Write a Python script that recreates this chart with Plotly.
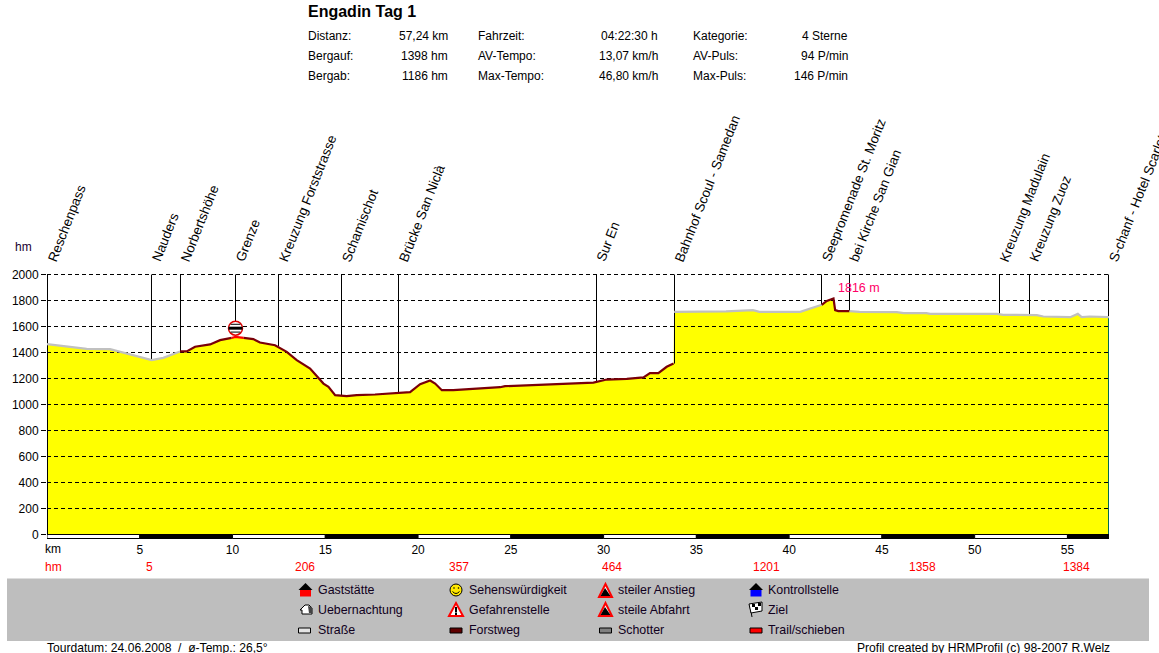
import numpy as np
import plotly.graph_objects as go

# ---------- data ----------
km = [0, 1.06, 2.14, 3.4, 4.65, 5.64, 6.27, 7.17, 7.53, 7.98, 8.79, 9.33, 9.95, 10.15, 10.6, 11.12, 11.48, 12.29,
      12.92, 13.46, 14.18, 14.9, 15.17, 15.53, 16.15, 16.69, 17.68, 18.49, 19.03, 19.57, 20.11, 20.65, 20.92,
      21.28, 21.9, 23.16, 24.42, 24.69, 26.2, 28.01, 29.45, 30.17, 31.25, 32.15, 32.5, 32.95, 33.4, 33.77,
      33.8, 35.55, 36.6, 38.05, 38.4, 40.6, 41.13, 41.76, 42.03, 42.39, 42.48, 42.65, 43.25, 43.8, 45.8, 46.17,
      47.4, 47.6, 51.2, 51.54, 53.35, 53.7, 55.15, 55.56, 55.77, 56.2, 57.24]
elev = [1464, 1444, 1428, 1426, 1380, 1341, 1359, 1408, 1408, 1444, 1462, 1495, 1512, 1520, 1512, 1503, 1477, 1456,
        1405, 1341, 1277, 1161, 1136, 1072, 1064, 1072, 1077, 1085, 1090, 1095, 1156, 1185, 1161,
        1110, 1110, 1120, 1133, 1141, 1149, 1164, 1169, 1192, 1197, 1208, 1241, 1241, 1290, 1315,
        1713, 1713, 1716, 1726, 1713, 1713, 1738, 1767, 1797, 1816, 1726, 1718, 1718, 1713, 1710, 1703,
        1703, 1697, 1697, 1690, 1687, 1677, 1672, 1697, 1672, 1677, 1672]

surface_from = [0, 7.17, 9.95, 10.6, 33.8, 41.76, 43.25]
surface_to = [7.17, 9.95, 10.6, 33.77, 41.76, 43.25, 57.24]
surface_kind = ["road", "forest", "trail", "forest", "road", "forest", "road"]
surface_colors = {"road": "#C0C0C0", "forest": "#7A0008", "trail": "#FF0000"}

way_names = ["Reschenpass", "Nauders", "Norbertshöhe", "Grenze", "Kreuzung Forststrasse",
             "Schamischot", "Brücke San Niclà", "Sur En", "Bahnhof Scoul - Samedan", "Seepromenade St. Moritz",
             "bei Kirche San Gian", "Kreuzung Madulain", "Kreuzung Zuoz", "S-chanf - Hotel Scarlet"]
way_km = [0.027, 5.632, 7.195, 10.16, 12.477, 15.873, 18.945, 29.617, 33.821, 41.744, 43.253, 51.338, 52.955, 57.213]
way_elev = [0, 1341, 1408, 1590, 1450, 1065, 1090, 1169, 1315, 1767, 1718, 1697, 1690, 1672]

y_ticks = [0, 200, 400, 600, 800, 1000, 1200, 1400, 1600, 1800, 2000]
km_ticks = [5, 10, 15, 20, 25, 30, 35, 40, 45, 50, 55]
band_edges = [0, 5, 10, 15, 20, 25, 30, 35, 40, 45, 50, 55, 57.24]
climb_km = [5.55, 13.9, 22.2, 30.46, 38.8, 47.2, 55.5]
climb_hm = [5, 206, 357, 464, 1201, 1358, 1384]
peak_km, peak_elev, peak_label = 42.39, 1816, "1816 m"
sign_km, sign_elev = 10.16, 1587

title = "Engadin Tag 1"
stats = [
    ["Distanz:", "57,24 km", "Fahrzeit:", "04:22:30 h", "Kategorie:", "4 Sterne"],
    ["Bergauf:", "1398 hm", "AV-Tempo:", "13,07 km/h", "AV-Puls:", "94 P/min"],
    ["Bergab:", "1186 hm", "Max-Tempo:", "46,80 km/h", "Max-Puls:", "146 P/min"],
]
legend_rows = [["Gaststätte", "Sehenswürdigkeit", "steiler Anstieg", "Kontrollstelle"],
               ["Uebernachtung", "Gefahrenstelle", "steile Abfahrt", "Ziel"],
               ["Straße", "Forstweg", "Schotter", "Trail/schieben"]]
footer_left = "Tourdatum: 24.06.2008  /  ø-Temp.: 26,5°"
footer_right = "Profil created by HRMProfil (c) 98-2007 R.Welz"

# ---------- layout helpers ----------
W, H = 1159, 653
L, R, T, B = 47, 1109, 274, 539
FONT = "Liberation Sans, Arial, sans-serif"


def px(x):
    return (x - L) / (R - L)


def py(y):
    return (B - y) / (B - T)


def txt(x, y, s, anchor="left", size=12, color="#000000", bold=False):
    return dict(xref="paper", yref="paper", x=px(x), y=py(y), text=f"<b>{s}</b>" if bold else s, showarrow=False,
                xanchor=anchor, yanchor="middle", align=anchor, borderpad=0, borderwidth=0,
                font=dict(family=FONT, size=size, color=color))


def poly(points, fill, line="rgba(0,0,0,0)", width=1, layer="above"):
    d = "M" + " L".join(f"{px(a):.5f},{py(b):.5f}" for a, b in points) + " Z"
    return dict(type="path", xref="paper", yref="paper", path=d, fillcolor=fill, line=dict(color=line, width=width),
                layer=layer)


def rect(x0, y0, x1, y1, fill, line="rgba(0,0,0,0)", width=1, layer="above"):
    return dict(type="rect", xref="paper", yref="paper", x0=px(x0), x1=px(x1), y0=py(y0), y1=py(y1), fillcolor=fill,
                line=dict(color=line, width=width), layer=layer)


def circle(cx, cy, r, fill, line="rgba(0,0,0,0)", width=1):
    return dict(type="circle", xref="paper", yref="paper", x0=px(cx - r), x1=px(cx + r), y0=py(cy - r), y1=py(cy + r),
                fillcolor=fill, line=dict(color=line, width=width), layer="above")


fig = go.Figure()

# profile fill
fig.add_trace(go.Scatter(x=km, y=elev, mode="none", fill="tozeroy", fillcolor="#FFFF00", hoverinfo="skip"))

# dashed grid
gx, gy = [], []
for v in y_ticks[1:]:
    gx += [0, km[-1], None]
    gy += [v, v, None]
fig.add_trace(go.Scatter(x=gx, y=gy, mode="lines", line=dict(color="#000000", width=1, dash="4px,3px"),
                         hoverinfo="skip"))

# waypoint drop lines
vx, vy = [], []
for k, e in zip(way_km[:-1], way_elev[:-1]):
    vx += [k, k, None]
    vy += [e, y_ticks[-1], None]
fig.add_trace(go.Scatter(x=vx, y=vy, mode="lines", line=dict(color="#000000", width=1), hoverinfo="skip"))
fig.add_trace(go.Scatter(x=[way_km[-1], way_km[-1]], y=[way_elev[-1], y_ticks[-1]], mode="lines",
                         line=dict(color="#000000", width=1), hoverinfo="skip"))
fig.add_trace(go.Scatter(x=[way_km[-1], way_km[-1]], y=[0, way_elev[-1]], mode="lines",
                         line=dict(color="#006A50", width=1), hoverinfo="skip"))

# surface-coloured profile line
akm, ael = np.array(km), np.array(elev)
for a, b, kind in zip(surface_from, surface_to, surface_kind):
    m = (akm >= a) & (akm <= b)
    fig.add_trace(go.Scatter(x=akm[m], y=ael[m], mode="lines", line=dict(color=surface_colors[kind], width=2.2),
                             hoverinfo="skip"))

# warning sign on the profile
fig.add_trace(go.Scatter(x=[sign_km], y=[sign_elev], mode="markers", hoverinfo="skip",
                         marker=dict(symbol="circle", size=14, color="#FFFFFF", line=dict(color="#E00000", width=1.5))))
fig.add_trace(go.Scatter(x=[sign_km], y=[sign_elev], mode="markers", hoverinfo="skip",
                         marker=dict(symbol="line-ew", size=10, line=dict(color="#000000", width=3))))
fig.add_trace(go.Scatter(x=[sign_km, sign_km], y=[sign_elev + 30, sign_elev - 30], mode="markers", hoverinfo="skip",
                         marker=dict(symbol="line-ew", size=7, line=dict(color="#000000", width=1))))

ann = []
shapes = []

# title and stats
ann.append(txt(308, 11, title, size=16, bold=True))
row_y = [35.5, 56, 75.5]
cols = [(308, "left"), (448, "right"), (478, "left"), (658, "right"), (693, "left"), (848, "right")]
for r, yy in zip(stats, row_y):
    for s, (cx, an) in zip(r, cols):
        ann.append(txt(cx, yy, s, anchor=an))

# waypoint names
for n, k in zip(way_names, way_km):
    ann.append(dict(xref="x", yref="paper", x=k, xshift=-4, y=py(265), text=n, textangle=-68.5, showarrow=False,
                    xanchor="left", yanchor="bottom", borderpad=0,
                    font=dict(family=FONT, size=13.4, color="#000000")))

ann.append(txt(15, 247, "hm", color="#200030"))
ann.append(txt(45, 549, "km"))
ann.append(txt(45, 567, "hm", color="#FF0000"))
for k, v in zip(climb_km, climb_hm):
    ann.append(dict(xref="x", yref="paper", x=k, y=py(567), text=str(v), showarrow=False, xanchor="center",
                    yanchor="middle", borderpad=0, font=dict(family=FONT, size=12, color="#FF0000")))
ann.append(dict(xref="x", yref="y", x=peak_km, xshift=4, y=peak_elev, yshift=10, text=peak_label, showarrow=False,
                xanchor="left", yanchor="middle", borderpad=0, font=dict(family=FONT, size=12.5, color="#FF0066")))

# distance band below the axis
for i, (a, b) in enumerate(zip(band_edges[:-1], band_edges[1:])):
    shapes.append(dict(type="rect", xref="x", yref="paper", x0=a, x1=b, y0=py(538.5), y1=py(534.5),
                       fillcolor="#000000" if i % 2 else "#FFFFFF", line=dict(color="#000000", width=1),
                       layer="above"))

# legend panel
shapes.append(rect(7, 578.5, 1149, 641, "#BEBEBE", layer="below"))
leg_text_x = [318, 469, 618, 768]
leg_y = [590, 610, 630]
for row, yy in zip(legend_rows, leg_y):
    for s, xx in zip(row, leg_text_x):
        ann.append(txt(xx, yy, s, color="#100020", size=12.4))


def house(cx, cy, col):
    shapes.append(poly([(cx - 7, cy), (cx, cy - 7), (cx + 7, cy)], "#000000"))
    shapes.append(rect(cx - 5.5, cy, cx + 5.5, cy + 6.5, col))


house(305.5, 590, "#FF0000")
house(756, 590, "#0000FF")
# lodging icon
shapes.append(poly([(300, 610), (305, 605), (309, 605), (312, 608), (312, 614), (302, 614), (302, 610)], "#FFFFFF", "#000000", 1))
shapes.append(poly([(308, 606), (312, 607), (312, 613), (309, 613)], "#444444"))
# surface swatches
for cx, col in zip([304.5, 456, 605.5, 756], ["#E4E4E4", "#600000", "#808080", "#FF0000"]):
    shapes.append(rect(cx - 6, 628, cx + 6, 633, col, "#000000"))
# smiley
shapes.append(circle(456, 590, 6, "#FFE800", "#000000"))
shapes.append(circle(454, 588, 0.8, "#000000"))
shapes.append(circle(458.5, 588, 0.8, "#000000"))
shapes.append(dict(type="path", xref="paper", yref="paper",
                   path=f"M{px(452.5):.5f},{py(591.5):.5f} Q{px(456):.5f},{py(595.5):.5f} {px(459.5):.5f},{py(591.5):.5f}",
                   line=dict(color="#000000", width=1), layer="above"))
# warning triangles
shapes.append(poly([(449, 616), (456, 603), (463, 616)], "#FFFFFF", "#FF0000", 2))
shapes.append(rect(455, 607, 457, 612.5, "#000000"))
shapes.append(rect(455, 613, 457, 615, "#000000"))
for cy in (597, 616):
    shapes.append(poly([(599, cy), (605.5, cy - 13), (612, cy)], "#FFFFFF", "#FF0000", 2))
    shapes.append(poly([(600.5, cy - 1), (605, cy - 9), (610.5, cy - 1)], "#000000"))
# flag
shapes.append(poly([(749, 604), (751.5, 617), (752.5, 617), (750, 604)], "#000000"))
shapes.append(poly([(749, 604), (762, 602), (762, 611), (751, 613)], "#FFFFFF", "#000000", 1))
shapes.append(rect(752, 604, 755, 607, "#000000"))
shapes.append(rect(758, 603, 761, 606, "#000000"))
shapes.append(rect(755, 607, 758, 610, "#000000"))

ann.append(txt(47, 648, footer_left, size=12.1))
ann.append(txt(1110, 648, footer_right, anchor="right", size=12.1))

fig.update_layout(
    width=W, height=H, autosize=False, showlegend=False, paper_bgcolor="#FFFFFF", plot_bgcolor="#FFFFFF",
    margin=dict(l=L, r=W - R, t=T, b=H - B, pad=0),
    font=dict(family=FONT, size=12, color="#000000"),
    annotations=ann, shapes=shapes,
    xaxis=dict(range=[0, km[-1]], tickmode="array", tickvals=km_ticks, ticktext=[str(v) for v in km_ticks],
               ticks="", showgrid=False, zeroline=False, showline=False, ticklabelstandoff=2,
               tickfont=dict(family=FONT, size=12, color="#000000")),
    yaxis=dict(range=[-34.6, 2003.85], tickmode="array", tickvals=y_ticks, ticktext=[str(v) for v in y_ticks],
               ticks="outside", ticklen=5, tickcolor="#000000", tickwidth=1, showgrid=False, zeroline=False,
               showline=False, tickfont=dict(family=FONT, size=12, color="#000000")),
)

fig.write_html("out.html", config=dict(displayModeBar=False, staticPlot=True),
               post_script="document.body.style.margin='0';document.body.style.overflow='hidden';")
